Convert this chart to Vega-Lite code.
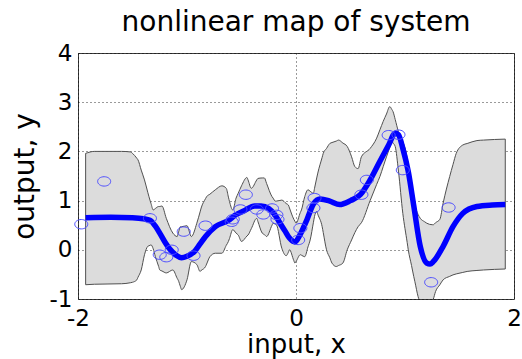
{
  "$schema": "https://vega.github.io/schema/vega-lite/v6.json",
  "width": 436,
  "height": 246,
  "autosize": {"type": "none"},
  "padding": {"left": 78, "top": 53, "right": 8, "bottom": 60},
  "background": "white",
  "config": {
    "view": {"stroke": "#3c3c3c", "strokeWidth": 1},
    "font": "DejaVu Sans",
    "axis": {
      "grid": true,
      "gridColor": "#000000",
      "gridDash": [1, 3],
      "gridWidth": 0.8,
      "gridOpacity": 1,
      "domain": false,
      "ticks": false,
      "labelFont": "DejaVu Sans",
      "labelFontSize": 23,
      "labelColor": "#000000",
      "labelFlush": false,
      "labelOverlap": false,
      "titleFont": "DejaVu Sans",
      "titleFontSize": 26,
      "titleFontWeight": "normal",
      "titleColor": "#000000"
    }
  },
  "title": {
    "text": "nonlinear map of system",
    "font": "DejaVu Sans",
    "fontSize": 28,
    "fontWeight": "normal",
    "color": "#000000",
    "baseline": "alphabetic",
    "anchor": "middle",
    "frame": "group",
    "offset": -17
  },
  "datasets": {
    "band": [
      {"x": -1.93, "lo": -0.71, "hi": 1.96},
      {"x": -1.85, "lo": -0.70, "hi": 2.0},
      {"x": -1.6, "lo": -0.69, "hi": 2.0},
      {"x": -1.52, "lo": -0.67, "hi": 1.99},
      {"x": -1.50, "lo": -0.66, "hi": 1.96},
      {"x": -1.46, "lo": -0.61, "hi": 1.86},
      {"x": -1.45, "lo": -0.56, "hi": 1.83},
      {"x": -1.42, "lo": -0.41, "hi": 1.62},
      {"x": -1.39, "lo": -0.10, "hi": 1.42},
      {"x": -1.36, "lo": 0.07, "hi": 1.17},
      {"x": -1.34, "lo": 0.09, "hi": 1.01},
      {"x": -1.33, "lo": 0.10, "hi": 0.94},
      {"x": -1.31, "lo": 0.02, "hi": 0.81},
      {"x": -1.29, "lo": -0.14, "hi": 0.84},
      {"x": -1.26, "lo": -0.34, "hi": 0.88},
      {"x": -1.25, "lo": -0.41, "hi": 0.88},
      {"x": -1.23, "lo": -0.43, "hi": 0.89},
      {"x": -1.19, "lo": -0.47, "hi": 0.64},
      {"x": -1.13, "lo": -0.41, "hi": 0.34},
      {"x": -1.09, "lo": -0.58, "hi": 0.27},
      {"x": -1.08, "lo": -0.62, "hi": 0.34},
      {"x": -1.06, "lo": -0.75, "hi": 0.47},
      {"x": -1.05, "lo": -0.81, "hi": 0.47},
      {"x": -1.0, "lo": -0.61, "hi": 0.49},
      {"x": -0.96, "lo": -0.24, "hi": 0.27},
      {"x": -0.91, "lo": -0.30, "hi": 0.54},
      {"x": -0.88, "lo": -0.44, "hi": 0.77},
      {"x": -0.87, "lo": -0.42, "hi": 0.85},
      {"x": -0.83, "lo": -0.34, "hi": 1.04},
      {"x": -0.82, "lo": -0.29, "hi": 1.08},
      {"x": -0.79, "lo": -0.14, "hi": 1.13},
      {"x": -0.74, "lo": -0.07, "hi": 1.22},
      {"x": -0.68, "lo": -0.07, "hi": 1.30},
      {"x": -0.64, "lo": 0.09, "hi": 1.25},
      {"x": -0.62, "lo": 0.17, "hi": 1.07},
      {"x": -0.61, "lo": 0.23, "hi": 0.98},
      {"x": -0.58, "lo": 0.41, "hi": 0.81},
      {"x": -0.55, "lo": 0.34, "hi": 1.05},
      {"x": -0.53, "lo": 0.30, "hi": 1.15},
      {"x": -0.50, "lo": 0.17, "hi": 1.30},
      {"x": -0.45, "lo": 0.28, "hi": 1.47},
      {"x": -0.44, "lo": 0.30, "hi": 1.42},
      {"x": -0.41, "lo": 0.43, "hi": 1.25},
      {"x": -0.36, "lo": 0.64, "hi": 1.42},
      {"x": -0.35, "lo": 0.58, "hi": 1.45},
      {"x": -0.31, "lo": 0.34, "hi": 1.46},
      {"x": -0.29, "lo": 0.31, "hi": 1.46},
      {"x": -0.27, "lo": 0.27, "hi": 1.35},
      {"x": -0.22, "lo": 0.50, "hi": 1.08},
      {"x": -0.21, "lo": 0.54, "hi": 1.05},
      {"x": -0.19, "lo": 0.52, "hi": 0.99},
      {"x": -0.18, "lo": 0.51, "hi": 0.99},
      {"x": -0.13, "lo": 0.03, "hi": 1.01},
      {"x": -0.09, "lo": -0.12, "hi": 0.94},
      {"x": -0.07, "lo": -0.05, "hi": 0.91},
      {"x": -0.06, "lo": 0.0, "hi": 0.85},
      {"x": -0.02, "lo": -0.22, "hi": 0.62},
      {"x": -0.01, "lo": -0.27, "hi": 0.58},
      {"x": 0.0, "lo": -0.24, "hi": 0.54},
      {"x": 0.04, "lo": -0.10, "hi": 0.76},
      {"x": 0.05, "lo": -0.11, "hi": 0.81},
      {"x": 0.08, "lo": -0.14, "hi": 1.08},
      {"x": 0.11, "lo": 0.06, "hi": 1.22},
      {"x": 0.13, "lo": 0.20, "hi": 1.19},
      {"x": 0.16, "lo": 0.56, "hi": 1.15},
      {"x": 0.17, "lo": 0.68, "hi": 1.25},
      {"x": 0.19, "lo": 0.78, "hi": 1.46},
      {"x": 0.20, "lo": 0.72, "hi": 1.56},
      {"x": 0.24, "lo": 0.47, "hi": 1.88},
      {"x": 0.25, "lo": 0.35, "hi": 1.96},
      {"x": 0.28, "lo": 0.0, "hi": 2.06},
      {"x": 0.31, "lo": -0.16, "hi": 2.16},
      {"x": 0.33, "lo": -0.27, "hi": 2.18},
      {"x": 0.37, "lo": -0.34, "hi": 2.21},
      {"x": 0.39, "lo": -0.32, "hi": 2.23},
      {"x": 0.43, "lo": -0.27, "hi": 2.17},
      {"x": 0.47, "lo": 0.0, "hi": 2.10},
      {"x": 0.51, "lo": 0.20, "hi": 1.89},
      {"x": 0.54, "lo": 0.35, "hi": 1.69},
      {"x": 0.57, "lo": 0.47, "hi": 1.65},
      {"x": 0.60, "lo": 0.55, "hi": 1.89},
      {"x": 0.68, "lo": 1.0, "hi": 2.06},
      {"x": 0.74, "lo": 1.33, "hi": 2.27},
      {"x": 0.77, "lo": 1.49, "hi": 2.44},
      {"x": 0.80, "lo": 1.69, "hi": 2.61},
      {"x": 0.83, "lo": 1.89, "hi": 2.76},
      {"x": 0.86, "lo": 2.08, "hi": 2.91},
      {"x": 0.88, "lo": 2.20, "hi": 2.85},
      {"x": 0.89, "lo": 2.17, "hi": 2.81},
      {"x": 0.91, "lo": 2.10, "hi": 2.65},
      {"x": 0.94, "lo": 1.60, "hi": 2.40},
      {"x": 0.98, "lo": 0.74, "hi": 2.20},
      {"x": 1.02, "lo": 0.15, "hi": 1.86},
      {"x": 1.03, "lo": 0.0, "hi": 1.69},
      {"x": 1.06, "lo": -0.32, "hi": 1.18},
      {"x": 1.08, "lo": -0.54, "hi": 0.99},
      {"x": 1.09, "lo": -0.64, "hi": 0.90},
      {"x": 1.12, "lo": -0.95, "hi": 0.72},
      {"x": 1.14, "lo": -1.08, "hi": 0.64},
      {"x": 1.18, "lo": -1.20, "hi": 0.57},
      {"x": 1.20, "lo": -1.18, "hi": 0.54},
      {"x": 1.25, "lo": -1.05, "hi": 0.51},
      {"x": 1.26, "lo": -1.0, "hi": 0.51},
      {"x": 1.28, "lo": -0.85, "hi": 0.55},
      {"x": 1.32, "lo": -0.71, "hi": 0.62},
      {"x": 1.35, "lo": -0.61, "hi": 0.95},
      {"x": 1.41, "lo": -0.54, "hi": 1.49},
      {"x": 1.44, "lo": -0.51, "hi": 1.73},
      {"x": 1.47, "lo": -0.49, "hi": 1.96},
      {"x": 1.53, "lo": -0.46, "hi": 2.13},
      {"x": 1.57, "lo": -0.44, "hi": 2.16},
      {"x": 1.66, "lo": -0.42, "hi": 2.22},
      {"x": 1.72, "lo": -0.41, "hi": 2.23},
      {"x": 1.92, "lo": -0.39, "hi": 2.25}
    ],
    "mean": [
      {"x": -1.93, "y": 0.65},
      {"x": -1.7, "y": 0.66},
      {"x": -1.5, "y": 0.65},
      {"x": -1.4, "y": 0.63},
      {"x": -1.34, "y": 0.60},
      {"x": -1.29, "y": 0.48},
      {"x": -1.25, "y": 0.34},
      {"x": -1.2, "y": 0.15},
      {"x": -1.16, "y": 0.02},
      {"x": -1.1, "y": -0.11},
      {"x": -1.05, "y": -0.16},
      {"x": -1.0, "y": -0.13},
      {"x": -0.93, "y": -0.03},
      {"x": -0.88, "y": 0.12},
      {"x": -0.83, "y": 0.27},
      {"x": -0.74, "y": 0.47},
      {"x": -0.61, "y": 0.61},
      {"x": -0.56, "y": 0.70},
      {"x": -0.47, "y": 0.80},
      {"x": -0.38, "y": 0.89},
      {"x": -0.32, "y": 0.89},
      {"x": -0.25, "y": 0.84},
      {"x": -0.19, "y": 0.70},
      {"x": -0.16, "y": 0.59},
      {"x": -0.1, "y": 0.38},
      {"x": -0.06, "y": 0.24},
      {"x": -0.01, "y": 0.16},
      {"x": 0.04, "y": 0.32},
      {"x": 0.10, "y": 0.61},
      {"x": 0.16, "y": 0.93},
      {"x": 0.22, "y": 1.03},
      {"x": 0.31, "y": 0.99},
      {"x": 0.40, "y": 0.92},
      {"x": 0.50, "y": 1.0},
      {"x": 0.59, "y": 1.12},
      {"x": 0.68, "y": 1.42},
      {"x": 0.77, "y": 1.80},
      {"x": 0.85, "y": 2.13},
      {"x": 0.91, "y": 2.37},
      {"x": 0.94, "y": 2.34},
      {"x": 0.98, "y": 2.06},
      {"x": 1.03, "y": 1.59},
      {"x": 1.08, "y": 0.90},
      {"x": 1.14, "y": 0.07},
      {"x": 1.20, "y": -0.27},
      {"x": 1.23, "y": -0.29},
      {"x": 1.26, "y": -0.24},
      {"x": 1.35, "y": 0.07},
      {"x": 1.44, "y": 0.47},
      {"x": 1.53, "y": 0.74},
      {"x": 1.66, "y": 0.88},
      {"x": 1.80, "y": 0.91},
      {"x": 1.92, "y": 0.92}
    ],
    "obs": [
      {"x": -1.97, "y": 0.52},
      {"x": -1.76, "y": 1.39},
      {"x": -1.34, "y": 0.64},
      {"x": -1.25, "y": -0.10},
      {"x": -1.19, "y": -0.15},
      {"x": -1.14, "y": 0.0},
      {"x": -1.03, "y": 0.37},
      {"x": -0.94, "y": -0.12},
      {"x": -0.83, "y": 0.49},
      {"x": -0.59, "y": 0.57},
      {"x": -0.58, "y": 0.62},
      {"x": -0.51, "y": 0.82},
      {"x": -0.46, "y": 1.12},
      {"x": -0.36, "y": 0.82},
      {"x": -0.30, "y": 0.72},
      {"x": -0.22, "y": 0.84},
      {"x": -0.18, "y": 0.71},
      {"x": -0.17, "y": 0.62},
      {"x": 0.04, "y": 0.44},
      {"x": 0.02, "y": 0.20},
      {"x": 0.17, "y": 1.05},
      {"x": 0.16, "y": 0.85},
      {"x": 0.60, "y": 1.12},
      {"x": 0.65, "y": 1.42},
      {"x": 0.85, "y": 2.33},
      {"x": 0.94, "y": 2.34},
      {"x": 0.98, "y": 1.62},
      {"x": 1.40, "y": 0.86},
      {"x": 1.24, "y": -0.66}
    ]
  },
  "layer": [
    {
      "data": {"name": "band"},
      "mark": {"type": "area", "fill": "#dcdcdc", "stroke": "#505050", "strokeWidth": 1, "clip": true, "interpolate": "monotone"},
      "encoding": {
        "x": {
          "field": "x", "type": "quantitative",
          "scale": {"domain": [-2, 2], "nice": false, "zero": false},
          "axis": {"values": [-2, 0, 2], "labelExpr": "'' + datum.value", "labelPadding": 8, "title": "input, x", "titlePadding": 22, "titleBaseline": "alphabetic"}
        },
        "y": {
          "field": "lo", "type": "quantitative",
          "scale": {"domain": [-1, 4], "nice": false, "zero": false},
          "axis": {"values": [-1, 0, 1, 2, 3, 4], "labelExpr": "'' + datum.value", "labelPadding": 6, "title": "output, y", "titleFontSize": 28, "titlePadding": 10}
        },
        "y2": {"field": "hi"}
      }
    },
    {
      "data": {"name": "mean"},
      "mark": {"type": "line", "color": "#0000ff", "strokeWidth": 5.5, "interpolate": "monotone"},
      "encoding": {
        "x": {"field": "x", "type": "quantitative"},
        "y": {"field": "y", "type": "quantitative"}
      }
    },
    {
      "data": {"name": "obs"},
      "mark": {"type": "point", "shape": "M -1 0 C -1 -0.4 -0.55 -0.72 0 -0.72 C 0.55 -0.72 1 -0.4 1 0 C 1 0.4 0.55 0.72 0 0.72 C -0.55 0.72 -1 0.4 -1 0 Z", "size": 170, "filled": false, "stroke": "#4d4dff", "strokeWidth": 1, "opacity": 1},
      "encoding": {
        "x": {"field": "x", "type": "quantitative"},
        "y": {"field": "y", "type": "quantitative"}
      }
    }
  ]
}
